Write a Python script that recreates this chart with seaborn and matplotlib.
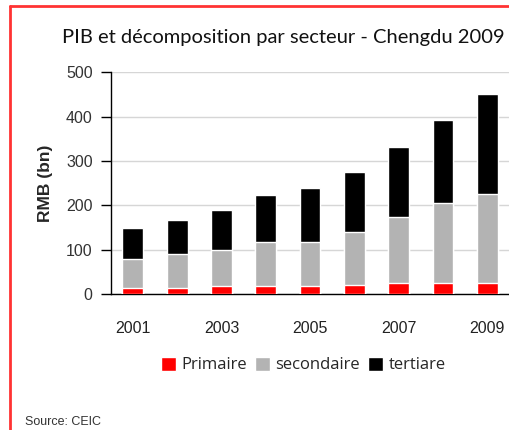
import numpy as np
import pandas as pd
import matplotlib
matplotlib.use('Agg')
import matplotlib.pyplot as plt
import seaborn as sns
from matplotlib.patches import Patch
from matplotlib.lines import Line2D

years = ['2001', '2002', '2003', '2004', '2005', '2006', '2007', '2008', '2009']
primaire = [14, 14, 18, 18, 18, 21, 25, 25, 25]
secondaire = [66, 76, 82, 99, 99, 119, 148, 181, 201]
tertiaire = [70, 77, 89, 106, 123, 135, 159, 186, 226]
shown_years = ['2001', '2003', '2005', '2007', '2009']

sns.set_style('white')
plt.rcParams['font.family'] = ['Liberation Sans', 'DejaVu Sans']

df = pd.DataFrame({'year': years, 'primaire': primaire,
                   'secondaire': secondaire, 'tertiaire': tertiaire})
df['top_sec'] = df['primaire'] + df['secondaire']
df['top_ter'] = df['top_sec'] + df['tertiaire']

fig = plt.figure(figsize=(5.1, 4.3), dpi=100)
ax = fig.add_axes([0.217, 0.3156, 0.782, 0.5163])

# stacked bars: draw totals first, then the lower parts over them
sns.barplot(data=df, x='year', y='top_ter', color='#000000', width=0.47,
            saturation=1, ax=ax, zorder=3)
sns.barplot(data=df, x='year', y='top_sec', color='#b3b3b3', width=0.47,
            saturation=1, ax=ax, zorder=3)
sns.barplot(data=df, x='year', y='primaire', color='#ff0000', width=0.47,
            saturation=1, ax=ax, zorder=3)

ax.set_ylim(0, 500)
ax.set_xlim(-0.5, len(years) - 0.5)
ax.set_yticks([0, 100, 200, 300, 400, 500])
ax.yaxis.grid(True, color='#d6d6d6', linewidth=1)
ax.set_axisbelow(True)

ax.set_xticks(range(len(years)))
ax.set_xticklabels([y if y in shown_years else '' for y in years])
ax.set_xticks(np.arange(-0.5, len(years), 1), minor=True)
ax.tick_params(axis='x', which='major', length=0, pad=19, labelsize=11.5, labelcolor='#222222')
ax.tick_params(axis='x', which='minor', length=6, width=1, color='black', direction='out')
ax.tick_params(axis='y', length=7, width=1, color='black', direction='out', pad=6,
               labelsize=11.5, labelcolor='#333333', left=True)

for s in ['top', 'right']:
    ax.spines[s].set_visible(False)
for s in ['left', 'bottom']:
    ax.spines[s].set_color('black')
    ax.spines[s].set_linewidth(1)

ax.set_xlabel('')
ax.set_ylabel('RMB (bn)', fontsize=12.5, fontweight='bold', labelpad=9)

fig.text(0.1216, 0.912, 'PIB et décomposition par secteur - Chengdu 2009',
         fontsize=14.5, family=['Lato', 'DejaVu Sans'], color='#111111', va='center')

handles = [Patch(facecolor='#ff0000'), Patch(facecolor='#b3b3b3'), Patch(facecolor='#000000')]
fig.legend(handles, ['Primaire', 'secondaire', 'tertiare'], loc='center',
           bbox_to_anchor=(0.595, 0.151), ncol=3, frameon=False,
           handlelength=0.9, handleheight=0.9, handletextpad=0.3, columnspacing=0.5,
           prop={'family': ['Open Sans', 'DejaVu Sans'], 'size': 12})

fig.text(0.049, 0.018, 'Source: CEIC', fontsize=9, color='#333333', va='center')

# red frame on left and top
fig.add_artist(Line2D([0.0205, 0.0205], [0.0, 0.985], color='#ff3333', linewidth=2,
                      transform=fig.transFigure))
fig.add_artist(Line2D([0.0205, 1.0], [0.985, 0.985], color='#ff3333', linewidth=2,
                      transform=fig.transFigure))

fig.savefig('out.png', dpi=100)
